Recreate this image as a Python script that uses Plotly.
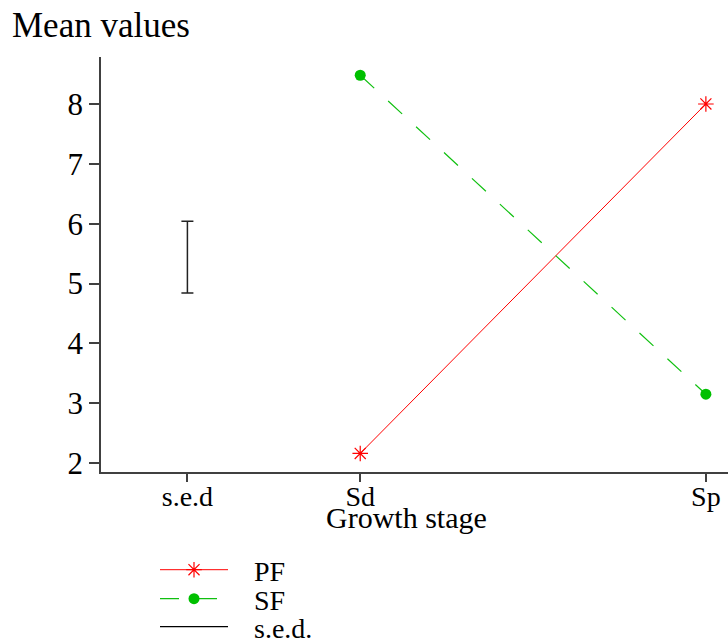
import plotly.graph_objects as go

# ---- data ----
stages = ["Sd", "Sp"]
stage_x = [1, 2]
pf_values = [2.16, 8.0]
sf_values = [8.48, 3.15]
sed_x = [0.5]
sed_center = [5.44]
sed_value = 1.2
tick_vals = [0.5, 1, 2]
tick_text = ["s.e.d", "Sd", "Sp"]
y_ticks = [2, 3, 4, 5, 6, 7, 8]

FONT = "Liberation Serif"
NB = "\u00a0\u00a0\u00a0"

L, R, T, B = 101, 0, 57, 169
W, H = 728, 641
PW, PH = W - L - R, H - T - B


def px_x(px):
    return (px - L) / PW


def px_y(py):
    return (H - B - py) / PH


fig = go.Figure()
fig.add_trace(go.Scatter(
    x=stage_x, y=pf_values, name=NB + "PF", mode="lines+markers",
    line=dict(color="#ff0000", width=1),
    marker=dict(symbol="asterisk-open", size=13, line=dict(color="#ff0000", width=1.2)),
    legend="legend",
))
fig.add_trace(go.Scatter(
    x=stage_x, y=sf_values, name=NB + "SF", mode="lines+markers",
    line=dict(color="#10c010", width=1.2, dash="19px,19px"),
    marker=dict(symbol="circle", size=11, color="#00c000"),
    legend="legend2",
))
fig.add_trace(go.Scatter(
    x=sed_x, y=sed_center, name=NB + "s.e.d.", mode="lines",
    line=dict(color="black", width=1.2),
    error_y=dict(type="data", array=[sed_value / 2], symmetric=True,
                 color="#222222", thickness=1.5, width=6),
    legend="legend3",
))

leg_common = dict(x=px_x(155), xanchor="left", yanchor="middle",
                  font=dict(family=FONT, size=28, color="black"), itemwidth=68,
                  bgcolor="rgba(0,0,0,0)")

fig.update_layout(
    width=W, height=H,
    margin=dict(l=L, r=R, t=T, b=B, autoexpand=False),
    paper_bgcolor="white", plot_bgcolor="white",
    font=dict(family=FONT, color="black", size=26),
    title=dict(text="Mean values", x=12 / W, xref="container", xanchor="left",
               y=1 - 25 / H, yref="container", yanchor="middle",
               font=dict(family=FONT, size=35, color="black")),
    xaxis=dict(range=[0.25, 2.064], tickvals=tick_vals, ticktext=tick_text,
               showline=True, linecolor="#404040", linewidth=1.5,
               ticks="outside", ticklen=8, tickcolor="#404040", tickwidth=1.5,
               showgrid=False, zeroline=False, ticklabelstandoff=-9,
               tickfont=dict(family=FONT, size=28)),
    yaxis=dict(range=[1.85, 8.785], tickvals=y_ticks,
               showline=True, linecolor="#404040", linewidth=1.5,
               ticks="outside", ticklen=10, tickcolor="#404040", tickwidth=1.5,
               showgrid=False, zeroline=False,
               tickfont=dict(family=FONT, size=31)),
    showlegend=True,
    legend=dict(y=px_y(570), **leg_common),
    legend2=dict(y=px_y(599), **leg_common),
    legend3=dict(y=px_y(627), **leg_common),
    annotations=[dict(text="Growth stage", xref="paper", yref="paper",
                      x=px_x(406), y=px_y(517), xanchor="center", yanchor="middle",
                      showarrow=False, font=dict(family=FONT, size=30, color="black"))],
)

fig.write_html(
    "out.html",
    config={"displayModeBar": False},
    post_script="document.body.style.margin='0px';document.body.style.overflow='hidden';",
)
